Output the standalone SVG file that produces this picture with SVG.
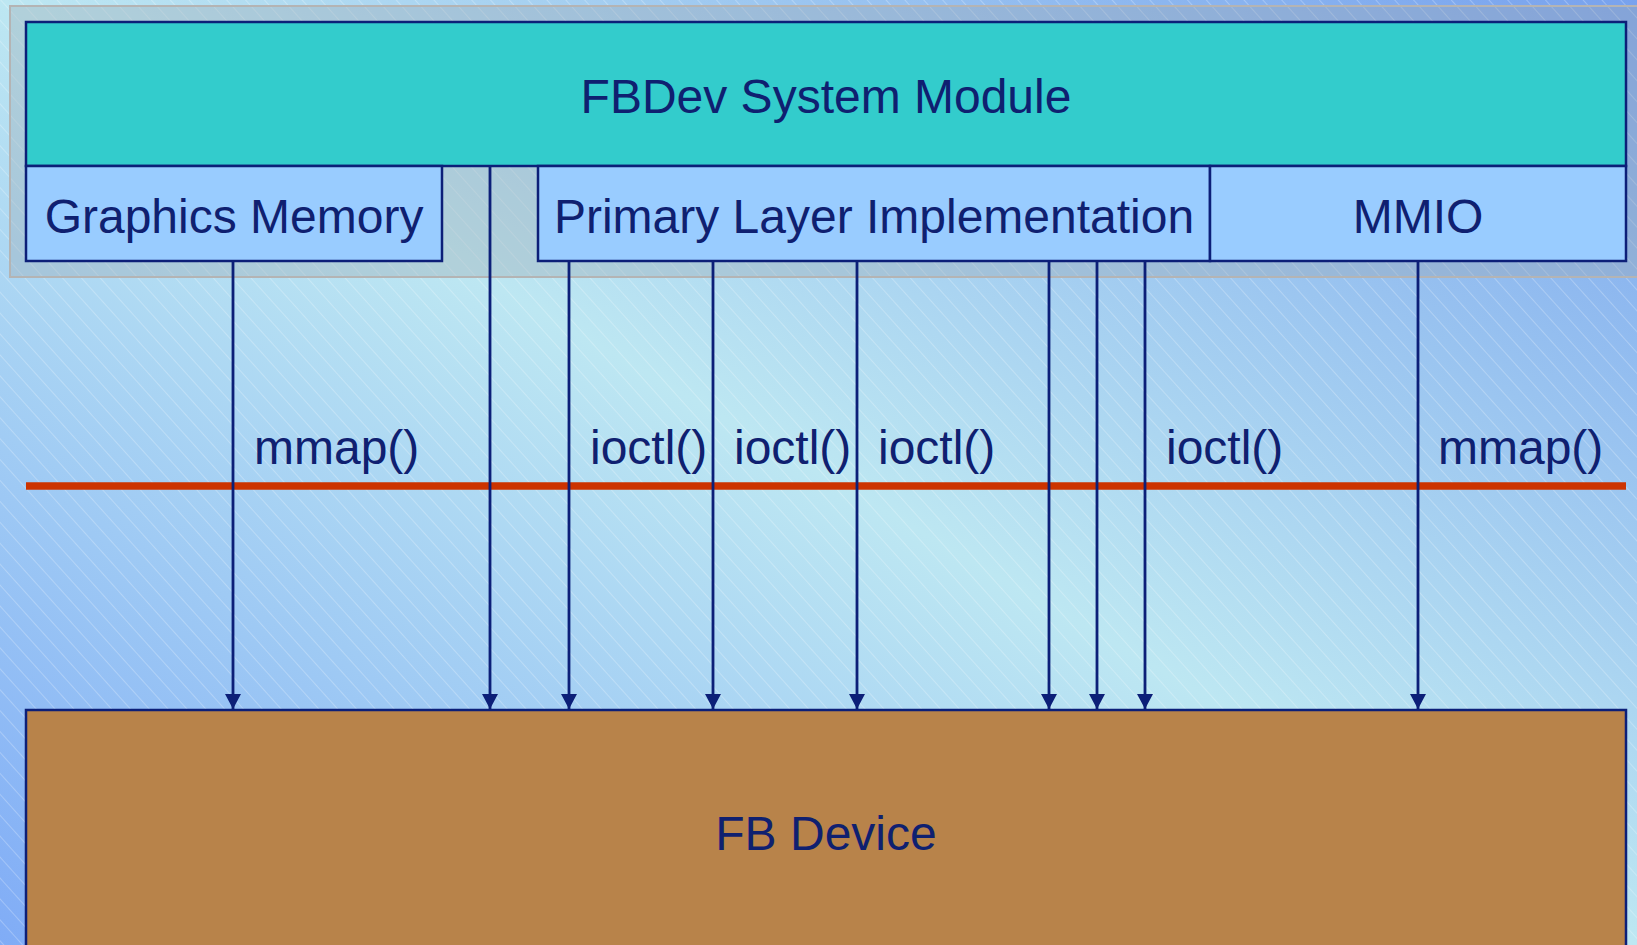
<svg xmlns="http://www.w3.org/2000/svg" width="1637" height="945" viewBox="0 0 1637 945">
  <defs>
    <linearGradient id="bgGrad" x1="0" y1="1" x2="1" y2="0">
      <stop offset="0" stop-color="#80acf6"/>
      <stop offset="0.5" stop-color="#bde7f2"/>
      <stop offset="1" stop-color="#78a2ee"/>
    </linearGradient>
    <pattern id="hatch" width="14" height="14" patternUnits="userSpaceOnUse" patternTransform="rotate(-42)">
      <line x1="0.5" y1="0" x2="0.5" y2="14" stroke="#ffffff" stroke-opacity="0.25" stroke-width="1"/>
    </pattern>
    <marker id="arrow" viewBox="0 0 15 16" markerWidth="15" markerHeight="16" refX="15" refY="8" orient="auto" markerUnits="userSpaceOnUse">
      <path d="M0,0 L15,8 L0,16 z" fill="#0c1f78"/>
    </marker>
    <style>
      .box { stroke: #0c1f78; stroke-width: 2.5; }
      .module { fill: #33cccc; }
      .sub { fill: #99ccff; }
      .device { fill: #b8834a; }
      .label { font-family: "Liberation Sans", Arial, sans-serif; font-size: 48px; fill: #0f2070; }
      .mid { text-anchor: middle; }
      .conn { stroke: #0c1f78; stroke-width: 2.8; fill: none; marker-end: url(#arrow); }
    </style>
  </defs>

  <!-- background -->
  <rect x="0" y="0" width="1637" height="945" fill="url(#bgGrad)"/>
  <rect x="0" y="0" width="1637" height="945" fill="url(#hatch)"/>

  <!-- host-side panel -->
  <rect id="panel" x="10" y="6" width="1640" height="271" fill="#9aa6ae" fill-opacity="0.35" stroke="#b4b4b4" stroke-width="2"/>

  <g id="fbdev-module">
    <rect class="box module" x="26" y="22" width="1600" height="144"/>
    <text class="label mid" x="826" y="113">FBDev System Module</text>
  </g>

  <g id="graphics-memory">
    <rect class="box sub" x="26" y="166" width="416" height="95"/>
    <text class="label mid" x="234" y="233">Graphics Memory</text>
  </g>

  <g id="primary-layer">
    <rect class="box sub" x="538" y="166" width="672" height="95"/>
    <text class="label mid" x="874" y="233">Primary Layer Implementation</text>
  </g>

  <g id="mmio">
    <rect class="box sub" x="1210" y="166" width="416" height="95"/>
    <text class="label mid" x="1418" y="233">MMIO</text>
  </g>

  <g id="fb-device">
    <rect class="box device" x="26" y="710" width="1600" height="260"/>
    <text class="label mid" x="826" y="850">FB Device</text>
  </g>

  <!-- user/kernel boundary -->
  <line id="boundary" x1="26" y1="486" x2="1626" y2="486" stroke="#cc3300" stroke-width="7.5"/>

  <g id="connectors">
    <line class="conn" x1="233" y1="261" x2="233" y2="709"/>
    <line class="conn" x1="490" y1="166" x2="490" y2="709"/>
    <line class="conn" x1="569" y1="261" x2="569" y2="709"/>
    <line class="conn" x1="713" y1="261" x2="713" y2="709"/>
    <line class="conn" x1="857" y1="261" x2="857" y2="709"/>
    <line class="conn" x1="1049" y1="261" x2="1049" y2="709"/>
    <line class="conn" x1="1097" y1="261" x2="1097" y2="709"/>
    <line class="conn" x1="1145" y1="261" x2="1145" y2="709"/>
    <line class="conn" x1="1418" y1="261" x2="1418" y2="709"/>
  </g>

  <g id="call-labels">
    <text class="label" x="254" y="464">mmap()</text>
    <text class="label" x="590" y="464">ioctl()</text>
    <text class="label" x="734" y="464">ioctl()</text>
    <text class="label" x="878" y="464">ioctl()</text>
    <text class="label" x="1166" y="464">ioctl()</text>
    <text class="label" x="1438" y="464">mmap()</text>
  </g>
</svg>
